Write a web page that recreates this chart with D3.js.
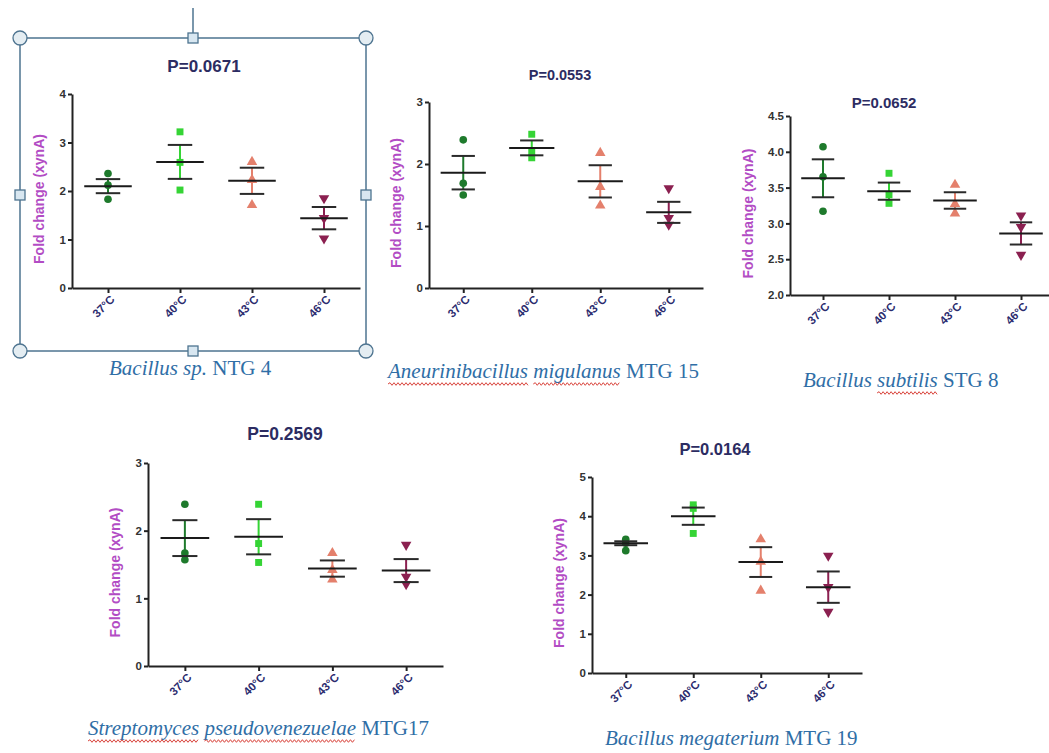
<!DOCTYPE html>
<html>
<head>
<meta charset="utf-8">
<script src="https://cdn.jsdelivr.net/npm/d3@7/dist/d3.min.js"></script>
<style>
  body { margin: 0; background: #fff; }
  svg { display: block; }
  .tick text { font-family: 'Liberation Sans', Arial, sans-serif; font-weight: bold; }
</style>
</head>
<body>
<svg id="chart" width="1049" height="753"></svg>
<script>
// ---- data ----
const temps = ['37°C', '40°C', '43°C', '46°C'];
const pValues = ['P=0.0671', 'P=0.0553', 'P=0.0652', 'P=0.2569', 'P=0.0164'];
const speciesNames = ['Bacillus sp.', 'Aneurinibacillus migulanus', 'Bacillus subtilis',
  'Streptomyces pseudovenezuelae', 'Bacillus megaterium'];
const strainNames = ['NTG 4', 'MTG 15', 'STG 8', 'MTG17', 'MTG 19'];
const yDomains = [[0, 4], [0, 3], [2, 4.5], [0, 3], [0, 5]];
const yTicks = [[0, 1, 2, 3, 4], [0, 1, 2, 3], [2, 2.5, 3, 3.5, 4, 4.5], [0, 1, 2, 3], [0, 1, 2, 3, 4, 5]];

// replicate values, one array per temperature
const replicates = [
  [[2.36, 2.12, 1.83], [3.22, 2.59, 2.02], [2.60, 2.23, 1.71], [1.85, 1.44, 1.02]],
  [[2.39, 1.69, 1.50], [2.48, 2.20, 2.10], [2.18, 1.63, 1.33], [1.61, 1.13, 1.02]],
  [[4.07, 3.65, 3.17], [3.70, 3.40, 3.28], [3.54, 3.27, 3.14], [3.11, 2.95, 2.56]],
  [[2.39, 1.67, 1.57], [2.39, 1.81, 1.53], [1.67, 1.42, 1.28], [1.79, 1.32, 1.21]],
  [[3.41, 3.31, 3.12], [4.29, 4.20, 3.56], [3.41, 2.84, 2.10], [2.99, 2.19, 1.56]]
];
const means = [
  [2.10, 2.60, 2.21, 1.44],
  [1.86, 2.26, 1.72, 1.22],
  [3.63, 3.45, 3.32, 2.86],
  [1.89, 1.91, 1.44, 1.41],
  [3.31, 4.00, 2.83, 2.19]
];
const sems = [
  [0.145, 0.35, 0.27, 0.23],
  [0.27, 0.12, 0.26, 0.17],
  [0.265, 0.12, 0.115, 0.155],
  [0.265, 0.26, 0.12, 0.17],
  [0.05, 0.22, 0.38, 0.40]
];

// ---- layout ----
const panels = [
  { x0: 72, x1: 360, yb: 288, yt: 94, title: [204, 72], tsize: 17, cap: [109, 375], wavy: [] },
  { x0: 429, x1: 703, yb: 288, yt: 102, title: [560, 80], tsize: 14.5, cap: [388, 378], wavy: [0, 1] },
  { x0: 790, x1: 1054, yb: 295, yt: 116, title: [884, 108], tsize: 15, cap: [803, 387], wavy: [1] },
  { x0: 148, x1: 443, yb: 666, yt: 463, title: [285, 440], tsize: 17.5, cap: [88, 735], wavy: [0, 1] },
  { x0: 592, x1: 862, yb: 673, yt: 477, title: [715, 455], tsize: 16.5, cap: [605, 745], wavy: [] }
];

const groupColors = ['#1e7a2c', '#35d435', '#e4806c', '#8b2050'];
const groupShapes = [d3.symbolCircle, d3.symbolSquare, d3.symbolTriangle, d3.symbolTriangle];
const sansFont = "'Liberation Sans', Arial, sans-serif";

const svg = d3.select('#chart');

function wavyPath(xa, xb, y) {
  const p = d3.path();
  p.moveTo(xa, y);
  let up = true;
  for (let x = xa + 2; x <= xb; x += 2) {
    p.lineTo(x, up ? y - 1.3 : y + 1.3);
    up = !up;
  }
  return p.toString();
}

panels.forEach((pn, i) => {
  const g = svg.append('g').attr('class', 'panel');

  const x = d3.scalePoint().domain(temps).range([pn.x0, pn.x1]).padding(0.5);
  const y = d3.scaleLinear().domain(yDomains[i]).range([pn.yb, pn.yt]);
  const step = x.step();
  const fmt = i === 2 ? d3.format('.1f') : d3.format('d');

  // axes
  const yAxis = g.append('g')
    .attr('transform', `translate(${pn.x0},0)`)
    .call(d3.axisLeft(y).tickValues(yTicks[i]).tickFormat(fmt).tickSize(4).tickSizeOuter(0));
  yAxis.selectAll('text').attr('font-size', 11.5).attr('fill', '#333').attr('x', -6);

  const xAxis = g.append('g')
    .attr('transform', `translate(0,${pn.yb})`)
    .call(d3.axisBottom(x).tickSize(5).tickSizeOuter(0));
  xAxis.selectAll('text')
    .attr('font-size', 11.5)
    .attr('fill', '#2b2b6e')
    .attr('text-anchor', 'end')
    .attr('x', 0).attr('y', 0).attr('dy', 0)
    .attr('transform', 'translate(7,12) rotate(-45)');

  g.selectAll('.domain').attr('stroke', '#222').attr('stroke-width', 2);
  g.selectAll('.tick line').attr('stroke', '#222').attr('stroke-width', 2);

  // y label
  g.append('text')
    .attr('transform', `translate(${pn.x0 - (i === 2 ? 37 : 28)},${(pn.yb + pn.yt) / 2 + 8}) rotate(-90)`)
    .attr('text-anchor', 'middle')
    .attr('font-family', sansFont)
    .attr('font-weight', 'bold')
    .attr('font-size', 14)
    .attr('fill', '#b24cc4')
    .text('Fold change (xynA)');

  // title
  g.append('text')
    .attr('x', pn.title[0]).attr('y', pn.title[1])
    .attr('text-anchor', 'middle')
    .attr('font-family', sansFont)
    .attr('font-weight', 'bold')
    .attr('font-size', pn.tsize)
    .attr('fill', '#2c2c62')
    .text(pValues[i]);

  // replicate points
  temps.forEach((t, k) => {
    const cx = x(t);
    const sym = d3.symbol().type(groupShapes[k]).size(k === 0 ? 46 : 48);
    g.append('g').selectAll('path')
      .data(replicates[i][k])
      .join('path')
      .attr('d', sym)
      .attr('transform', d => `translate(${cx},${y(d)})${k === 3 ? ' rotate(180)' : ''}`)
      .attr('fill', groupColors[k]);

    // error bars (mean ± SEM)
    const m = means[i][k];
    const s = sems[i][k];
    const eb = g.append('g');
    eb.append('line')
      .attr('x1', cx).attr('x2', cx)
      .attr('y1', y(m + s)).attr('y2', y(m - s))
      .attr('stroke', groupColors[k]).attr('stroke-width', 2);
    [m + s, m - s].forEach(v => {
      eb.append('line')
        .attr('x1', cx - step * 0.17).attr('x2', cx + step * 0.17)
        .attr('y1', y(v)).attr('y2', y(v))
        .attr('stroke', '#2a2a2a').attr('stroke-width', 2);
    });
    eb.append('line')
      .attr('x1', cx - step * 0.33).attr('x2', cx + step * 0.33)
      .attr('y1', y(m)).attr('y2', y(m))
      .attr('stroke', '#1a1a1a').attr('stroke-width', 2);
  });

  // caption: italic species + roman strain
  const words = speciesNames[i].split(' ');
  const cap = g.append('text')
    .attr('x', pn.cap[0]).attr('y', pn.cap[1])
    .attr('font-family', "'Liberation Serif', 'Times New Roman', serif")
    .attr('font-size', 21)
    .attr('fill', '#2f6ea6');
  const spans = words.map((w, j) => cap.append('tspan')
    .attr('font-style', 'italic')
    .text(w + (j < words.length - 1 ? ' ' : '')));
  cap.append('tspan').text(' ' + strainNames[i]);

  // red spell-check squiggles under flagged words
  let xa = pn.cap[0];
  spans.forEach((sp, j) => {
    const full = sp.node().getComputedTextLength();
    const trimmed = j < words.length - 1 ? full - 5 : full;
    if (pn.wavy.includes(j)) {
      g.append('path')
        .attr('d', wavyPath(xa, xa + trimmed, pn.cap[1] + 6))
        .attr('fill', 'none')
        .attr('stroke', '#d9443c')
        .attr('stroke-width', 1);
    }
    xa += full;
  });
});

// selection frame around first panel
const frame = svg.append('g').attr('class', 'frame');
const fx0 = 20, fx1 = 366, fy0 = 38, fy1 = 351, fxm = 193, fym = 195;
const frameColor = '#4e7490';
frame.append('line').attr('x1', fxm).attr('x2', fxm).attr('y1', 8).attr('y2', fy0)
  .attr('stroke', frameColor).attr('stroke-width', 1.5);
frame.append('rect')
  .attr('x', fx0).attr('y', fy0).attr('width', fx1 - fx0).attr('height', fy1 - fy0)
  .attr('fill', 'none').attr('stroke', frameColor).attr('stroke-width', 1.5);
[[fx0, fy0], [fx1, fy0], [fx0, fy1], [fx1, fy1]].forEach(([cx, cy]) => {
  frame.append('circle').attr('cx', cx).attr('cy', cy).attr('r', 7)
    .attr('fill', '#e4edf2').attr('stroke', frameColor).attr('stroke-width', 1.3);
});
[[fxm, fy0], [fx0, fym], [fx1, fym], [fxm, fy1]].forEach(([cx, cy]) => {
  frame.append('rect').attr('x', cx - 5).attr('y', cy - 5).attr('width', 10).attr('height', 10)
    .attr('fill', '#d8e7f1').attr('stroke', frameColor).attr('stroke-width', 1.3);
});
</script>
</body>
</html>
